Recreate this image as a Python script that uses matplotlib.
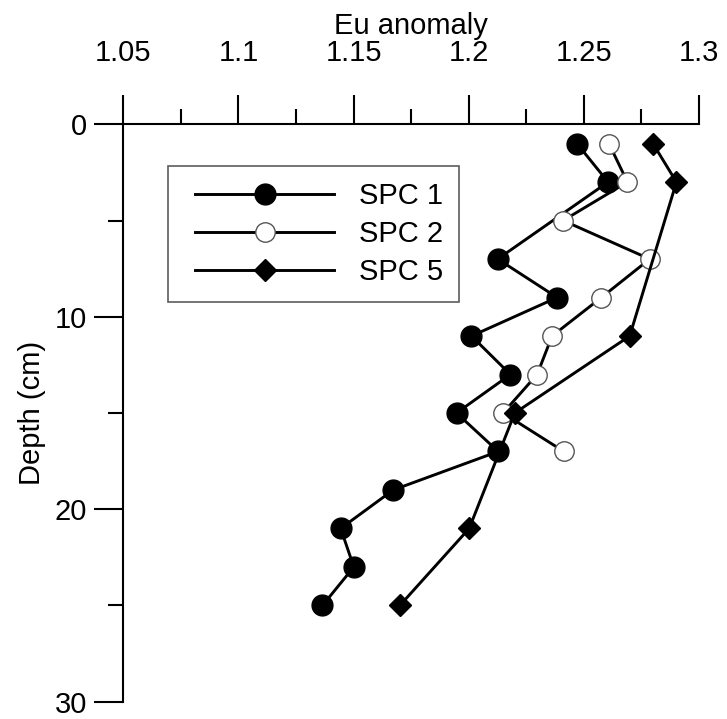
import matplotlib
matplotlib.use("Agg")
import matplotlib.pyplot as plt
from matplotlib.ticker import MultipleLocator
from matplotlib.lines import Line2D
from matplotlib.legend_handler import HandlerLine2D

plt.rcParams["font.family"] = ["Liberation Sans", "DejaVu Sans"]

# depth (cm) and Eu anomaly
depth_spc1 = [1, 3, 7, 9, 11, 13, 15, 17, 19, 21, 23, 25]
eu_spc1 = [1.247, 1.2605, 1.2126, 1.2384, 1.2012, 1.2181, 1.1947, 1.2128,
           1.1672, 1.1444, 1.1501, 1.1365]

depth_spc2 = [1, 3, 5, 7, 9, 11, 13, 15, 17]
eu_spc2 = [1.2609, 1.2689, 1.241, 1.2786, 1.2576, 1.2362, 1.2297, 1.2149, 1.2413]

depth_spc5 = [1, 3, 11, 15, 21, 25]
eu_spc5 = [1.28, 1.2902, 1.2699, 1.22, 1.2002, 1.1701]

fig = plt.figure(figsize=(7.27, 7.19), dpi=100)
ax = fig.add_axes([0.1696, 0.0241, 0.7919, 0.803])

ax.plot(eu_spc1, depth_spc1, color="black", lw=2.1, marker="o", ms=15,
        mfc="black", mec="black", label="SPC 1")
ax.plot(eu_spc2, depth_spc2, color="black", lw=2.1, marker="o", ms=14,
        mfc="white", mec="#555555", mew=1, label="SPC 2")
ax.plot(eu_spc5, depth_spc5, color="black", lw=2.1, marker="D", ms=11.5,
        mfc="black", mec="black", label="SPC 5")

ax.set_xlim(1.05, 1.3)
ax.set_ylim(30, 0)

ax.xaxis.set_ticks_position("top")
ax.xaxis.set_label_position("top")
ax.set_xticks([1.05, 1.1, 1.15, 1.2, 1.25, 1.3])
ax.set_xticklabels(["1.05", "1.1", "1.15", "1.2", "1.25", "1.3"])
ax.xaxis.set_minor_locator(MultipleLocator(0.025))
ax.set_yticks([0, 10, 20, 30])
ax.yaxis.set_minor_locator(MultipleLocator(5))

ax.tick_params(which="major", direction="out", length=21, width=1.5,
               labelsize=21)
ax.tick_params(which="minor", direction="out", length=11, width=1.5)
ax.tick_params(axis="x", which="major", pad=20)
ax.tick_params(axis="y", which="major", pad=5)

ax.spines["right"].set_visible(False)
ax.spines["bottom"].set_visible(False)
for s in ["left", "top"]:
    ax.spines[s].set_linewidth(1.5)

ax.set_xlabel("Eu anomaly", fontsize=21, labelpad=4)
ax.set_ylabel("Depth (cm)", fontsize=21, labelpad=6)

leg = ax.legend(loc="upper left", bbox_to_anchor=(0.078, 0.928), fontsize=21,
                frameon=True, fancybox=False, edgecolor="#333333",
                handlelength=5.15, handletextpad=0.85, labelspacing=0.35,
                borderpad=0.55, borderaxespad=0,
                handler_map={Line2D: HandlerLine2D(xpad=0.38)})
leg.get_frame().set_linewidth(1.2)

fig.savefig("out.png", dpi=100)
